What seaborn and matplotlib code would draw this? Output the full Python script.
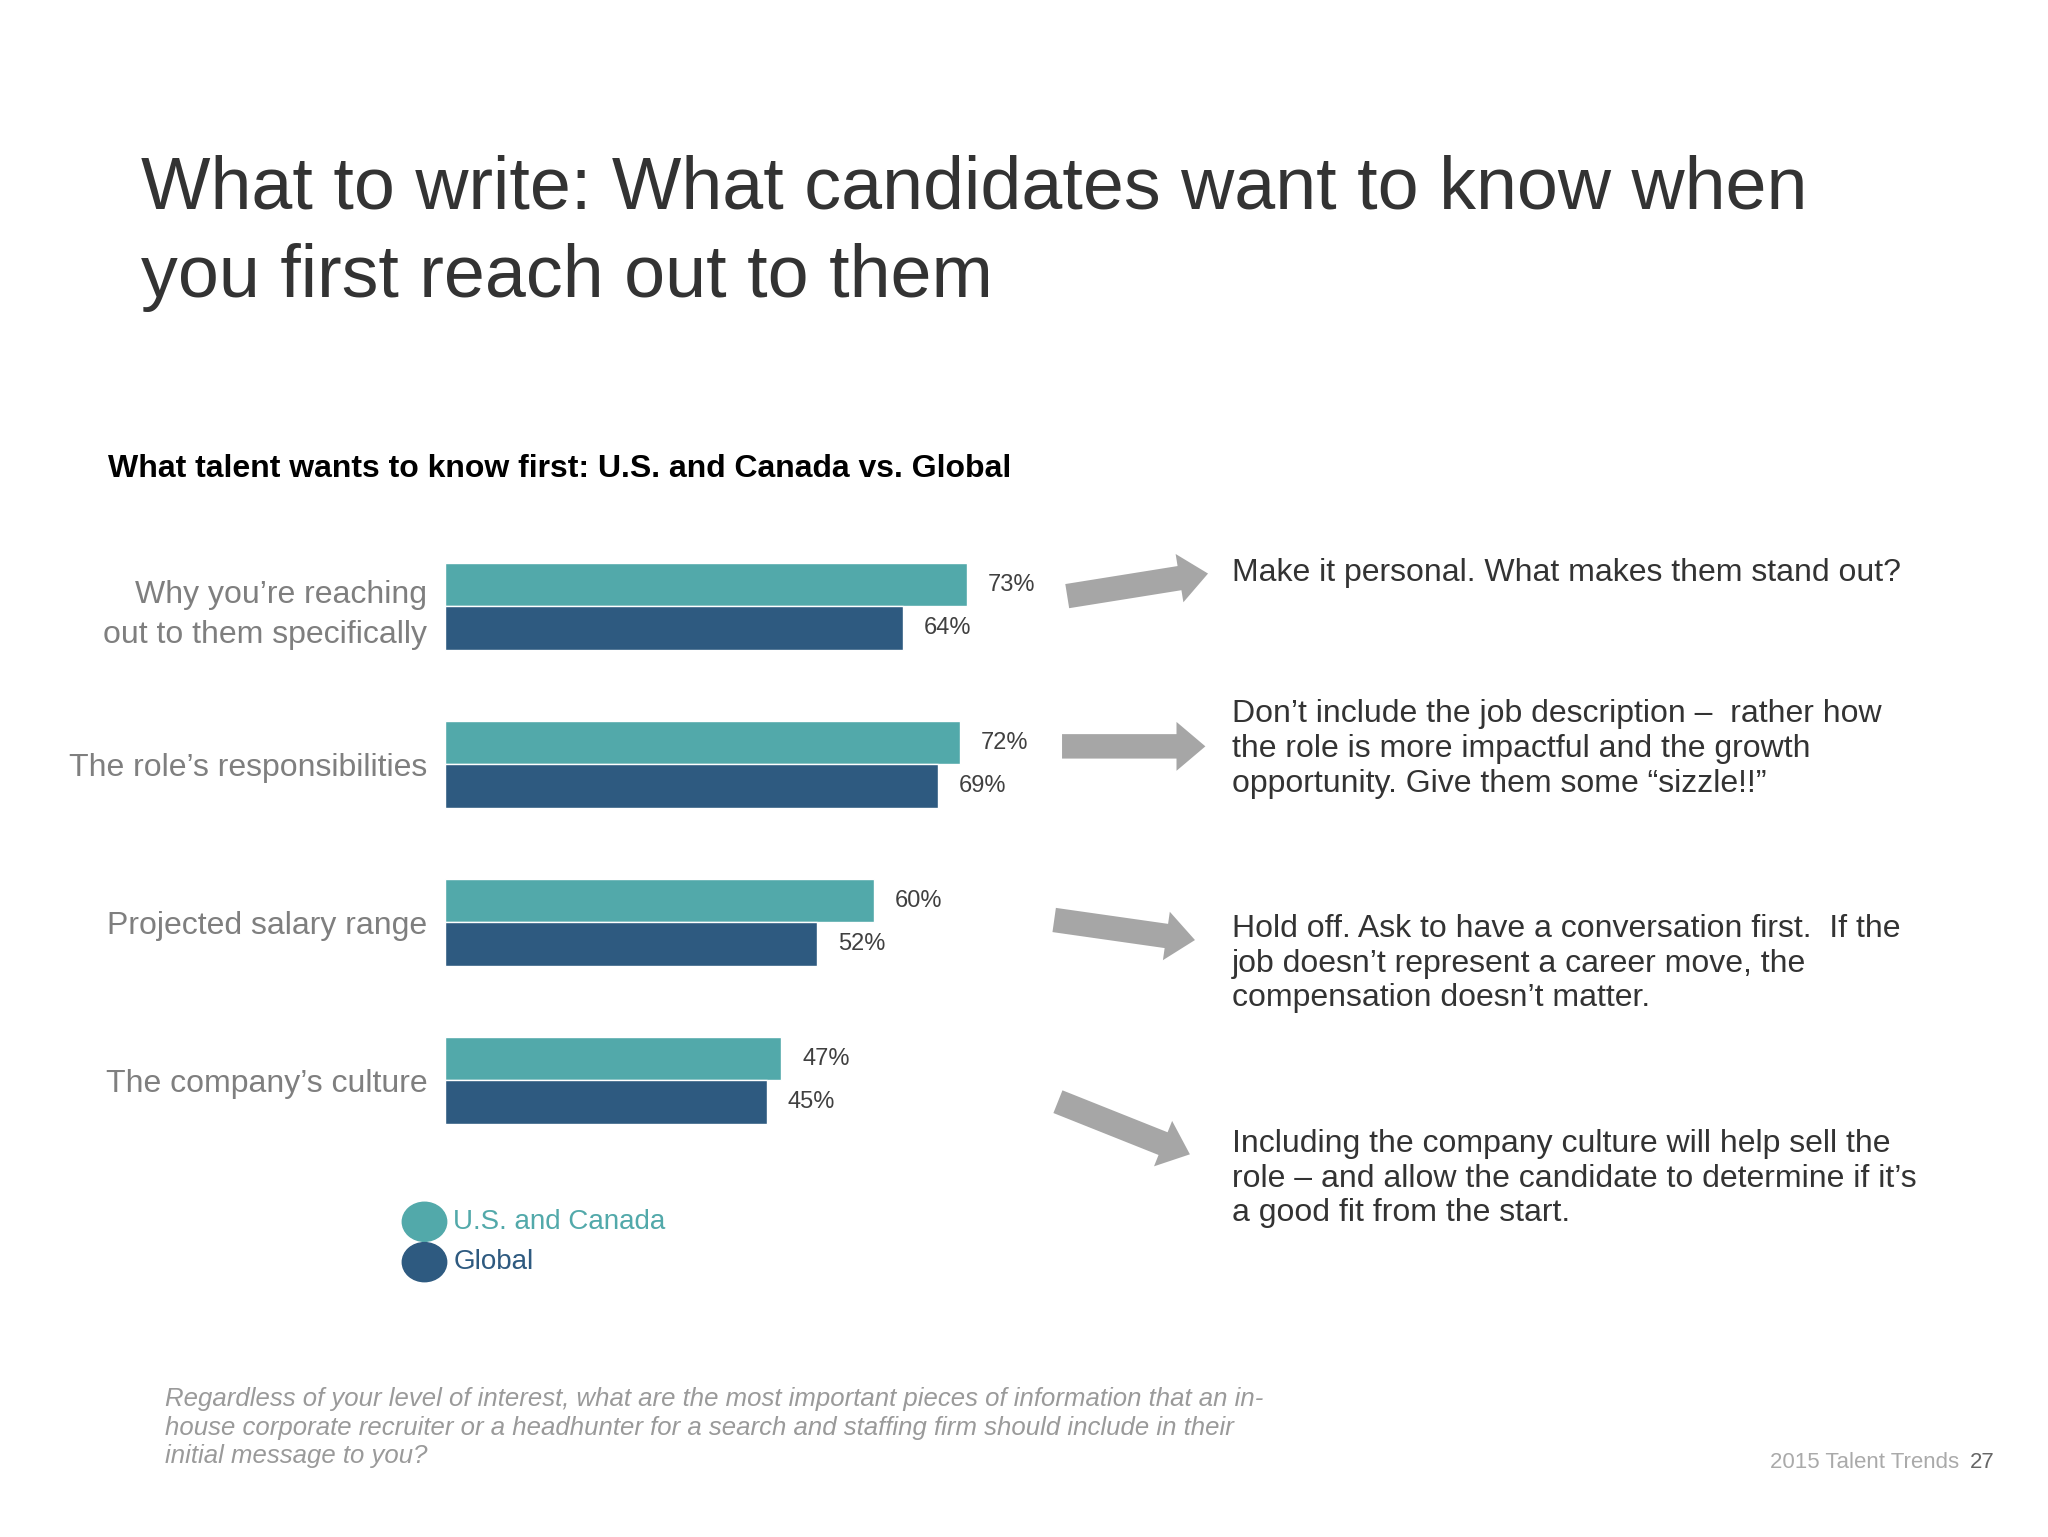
import matplotlib
matplotlib.use("Agg")
import matplotlib.pyplot as plt
import seaborn as sns
import pandas as pd

categories = ["Why you\u2019re reaching\nout to them specifically", "The role\u2019s responsibilities",
              "Projected salary range", "The company\u2019s culture"]
us_canada = [73, 72, 60, 47]
global_vals = [64, 69, 52, 45]
series = ["U.S. and Canada", "Global"]
colors = ["#52A9AA", "#2E5A80"]
notes = [
    "Make it personal. What makes them stand out?",
    "Don\u2019t include the job description \u2013  rather how\nthe role is more impactful and the growth\nopportunity. Give them some \u201csizzle!!\u201d",
    "Hold off. Ask to have a conversation first.  If the\njob doesn\u2019t represent a career move, the\ncompensation doesn\u2019t matter.",
    "Including the company culture will help sell the\nrole \u2013 and allow the candidate to determine if it\u2019s\na good fit from the start.",
]

df = pd.DataFrame({
    "category": categories * 2,
    "series": [series[0]] * 4 + [series[1]] * 4,
    "value": us_canada + global_vals,
})

W, H = 1568, 1180
fx = lambda x: x / W
fy = lambda y: 1 - y / H

sns.set_theme(style="white")
plt.rcParams["font.family"] = ["Liberation Sans", "DejaVu Sans"]
fig = plt.figure(figsize=(20.48, 15.37), dpi=100)
ax = fig.add_axes([fx(341), fy(890), 547 / W, (890 - 405) / H])
sns.barplot(data=df, y="category", x="value", hue="series", palette=colors,
            width=0.55, ax=ax, legend=False, saturation=1)
ax.set_xlim(0, 100)
ax.set_ylim(3.5, -0.5)
ax.set_xlabel("")
ax.set_ylabel("")
ax.set_xticks([])
sns.despine(ax=ax, left=True, bottom=True)
ax.tick_params(axis="y", length=0, pad=13, labelsize=23, labelcolor="#7f7f7f")
for lab in ax.get_yticklabels():
    lab.set_horizontalalignment("right")
    lab.set_linespacing(1.45)
for cont in ax.containers:
    ax.bar_label(cont, labels=[f"{v:.0f}%" for v in cont.datavalues], padding=15,
                 fontsize=17, color="#404040")

fig.text(fx(108), fy(145), "What to write: What candidates want to know when",
         fontsize=53, color="#333333", va="center")
fig.text(fx(108), fy(213), "you first reach out to them", fontsize=53, color="#333333", va="center")
fig.text(fx(83), fy(360), "What talent wants to know first: U.S. and Canada vs. Global",
         fontsize=23, fontweight="bold", color="black", va="center")

for i, (name, c) in enumerate(zip(series, colors)):
    y = 938 + 31 * i
    fig.patches.append(matplotlib.patches.Ellipse((fx(325), fy(y)), 34 / W, 30 / H,
                                                  transform=fig.transFigure, color=c))
    fig.text(fx(347), fy(y), name, fontsize=20, color=c, va="center")

arrows = [((815, 458), (927, 440)), ((811, 573), (925, 573)),
          ((805, 706), (917, 722)), ((808, 845), (913, 887))]
for (x0, y0), (x1, y1) in arrows:
    fig.patches.append(matplotlib.patches.FancyArrowPatch(
        (fx(x0), fy(y0)), (fx(x1), fy(y1)), transform=fig.transFigure,
        arrowstyle="simple,head_width=2.2,head_length=1.3,tail_width=1.1",
        mutation_scale=16, color="#A6A6A6", lw=0))

note_y = [440, 575, 740, 905]
for t, y in zip(notes, note_y):
    fig.text(fx(943), fy(y), t, fontsize=23, color="#333333", va="center", linespacing=1.2)

fig.text(fx(126), fy(1096),
         "Regardless of your level of interest, what are the most important pieces of information that an in-\n"
         "house corporate recruiter or a headhunter for a search and staffing firm should include in their\n"
         "initial message to you?", fontsize=18.5, style="italic", color="#9a9a9a", va="center",
         linespacing=1.25)
fig.text(fx(1500), fy(1123), "2015 Talent Trends", fontsize=16, color="#aaaaaa", va="center", ha="right")
fig.text(fx(1527), fy(1123), "27", fontsize=16, color="#666666", va="center", ha="right")

fig.savefig("out.png", dpi=100)
